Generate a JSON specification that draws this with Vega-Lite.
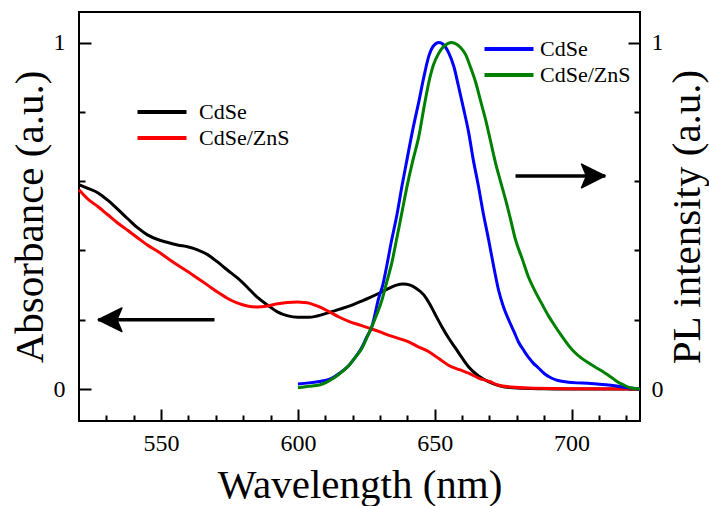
{
  "$schema": "https://vega.github.io/schema/vega-lite/v6.json",
  "width": 561,
  "height": 409,
  "autosize": "none",
  "padding": {"left": 79, "top": 12, "right": 69, "bottom": 85},
  "background": "white",
  "config": {
    "view": {"stroke": "black", "strokeWidth": 2},
    "font": "'Liberation Serif', 'Times New Roman', serif",
    "axis": {
      "domain": false, "grid": false, "tickColor": "black", "tickWidth": 2,
      "labelFont": "'Liberation Serif', 'Times New Roman', serif", "labelFontSize": 24, "labelColor": "black",
      "titleFont": "'Liberation Serif', 'Times New Roman', serif", "titleFontSize": 41, "titleFontWeight": "normal", "titleColor": "black"
    },
    "legend": {"labelFont": "'Liberation Serif', 'Times New Roman', serif", "labelFontSize": 22, "labelColor": "black"}
  },
  "datasets": {
    "abs": [
      {"w": 520, "v": 0.590, "sample": "CdSe"}, {"w": 523, "v": 0.580, "sample": "CdSe"}, {"w": 527, "v": 0.566, "sample": "CdSe"},
      {"w": 530.5, "v": 0.545, "sample": "CdSe"}, {"w": 534, "v": 0.520, "sample": "CdSe"}, {"w": 538, "v": 0.490, "sample": "CdSe"},
      {"w": 541.5, "v": 0.465, "sample": "CdSe"}, {"w": 545, "v": 0.445, "sample": "CdSe"}, {"w": 549, "v": 0.431, "sample": "CdSe"},
      {"w": 552.5, "v": 0.423, "sample": "CdSe"}, {"w": 556, "v": 0.416, "sample": "CdSe"}, {"w": 560, "v": 0.410, "sample": "CdSe"},
      {"w": 563.3, "v": 0.402, "sample": "CdSe"}, {"w": 567, "v": 0.388, "sample": "CdSe"}, {"w": 570.6, "v": 0.367, "sample": "CdSe"},
      {"w": 574, "v": 0.345, "sample": "CdSe"}, {"w": 578, "v": 0.320, "sample": "CdSe"}, {"w": 581.5, "v": 0.294, "sample": "CdSe"},
      {"w": 585, "v": 0.266, "sample": "CdSe"}, {"w": 589, "v": 0.242, "sample": "CdSe"}, {"w": 592.5, "v": 0.223, "sample": "CdSe"},
      {"w": 596, "v": 0.212, "sample": "CdSe"}, {"w": 600, "v": 0.207, "sample": "CdSe"}, {"w": 604, "v": 0.207, "sample": "CdSe"},
      {"w": 607, "v": 0.211, "sample": "CdSe"}, {"w": 611, "v": 0.220, "sample": "CdSe"}, {"w": 615, "v": 0.230, "sample": "CdSe"},
      {"w": 619, "v": 0.240, "sample": "CdSe"}, {"w": 623, "v": 0.253, "sample": "CdSe"}, {"w": 626, "v": 0.263, "sample": "CdSe"},
      {"w": 630, "v": 0.278, "sample": "CdSe"}, {"w": 633, "v": 0.290, "sample": "CdSe"}, {"w": 636, "v": 0.300, "sample": "CdSe"},
      {"w": 638.5, "v": 0.303, "sample": "CdSe"}, {"w": 641, "v": 0.300, "sample": "CdSe"}, {"w": 643, "v": 0.292, "sample": "CdSe"},
      {"w": 646, "v": 0.272, "sample": "CdSe"}, {"w": 648, "v": 0.248, "sample": "CdSe"}, {"w": 650, "v": 0.218, "sample": "CdSe"},
      {"w": 652.6, "v": 0.180, "sample": "CdSe"}, {"w": 655, "v": 0.148, "sample": "CdSe"}, {"w": 657.6, "v": 0.118, "sample": "CdSe"},
      {"w": 660, "v": 0.090, "sample": "CdSe"}, {"w": 662.4, "v": 0.064, "sample": "CdSe"}, {"w": 666, "v": 0.038, "sample": "CdSe"},
      {"w": 670, "v": 0.020, "sample": "CdSe"}, {"w": 674, "v": 0.009, "sample": "CdSe"}, {"w": 680, "v": 0.003, "sample": "CdSe"},
      {"w": 690, "v": 0.001, "sample": "CdSe"}, {"w": 700, "v": 0.0, "sample": "CdSe"}, {"w": 725, "v": 0.0, "sample": "CdSe"},
      {"w": 520, "v": 0.575, "sample": "CdSe/ZnS"}, {"w": 523, "v": 0.550, "sample": "CdSe/ZnS"}, {"w": 527, "v": 0.526, "sample": "CdSe/ZnS"},
      {"w": 530.5, "v": 0.503, "sample": "CdSe/ZnS"}, {"w": 534, "v": 0.480, "sample": "CdSe/ZnS"}, {"w": 538, "v": 0.457, "sample": "CdSe/ZnS"},
      {"w": 541.5, "v": 0.436, "sample": "CdSe/ZnS"}, {"w": 545, "v": 0.416, "sample": "CdSe/ZnS"}, {"w": 549, "v": 0.396, "sample": "CdSe/ZnS"},
      {"w": 552.5, "v": 0.377, "sample": "CdSe/ZnS"}, {"w": 556, "v": 0.358, "sample": "CdSe/ZnS"}, {"w": 560, "v": 0.338, "sample": "CdSe/ZnS"},
      {"w": 563.3, "v": 0.320, "sample": "CdSe/ZnS"}, {"w": 567, "v": 0.300, "sample": "CdSe/ZnS"}, {"w": 570.6, "v": 0.280, "sample": "CdSe/ZnS"},
      {"w": 574, "v": 0.263, "sample": "CdSe/ZnS"}, {"w": 578, "v": 0.248, "sample": "CdSe/ZnS"}, {"w": 581.5, "v": 0.240, "sample": "CdSe/ZnS"},
      {"w": 585, "v": 0.237, "sample": "CdSe/ZnS"}, {"w": 589, "v": 0.240, "sample": "CdSe/ZnS"}, {"w": 592.5, "v": 0.246, "sample": "CdSe/ZnS"},
      {"w": 596, "v": 0.250, "sample": "CdSe/ZnS"}, {"w": 600, "v": 0.251, "sample": "CdSe/ZnS"}, {"w": 602, "v": 0.250, "sample": "CdSe/ZnS"},
      {"w": 604, "v": 0.248, "sample": "CdSe/ZnS"}, {"w": 607, "v": 0.240, "sample": "CdSe/ZnS"}, {"w": 611, "v": 0.225, "sample": "CdSe/ZnS"},
      {"w": 615, "v": 0.208, "sample": "CdSe/ZnS"}, {"w": 619, "v": 0.194, "sample": "CdSe/ZnS"}, {"w": 623, "v": 0.184, "sample": "CdSe/ZnS"},
      {"w": 626, "v": 0.176, "sample": "CdSe/ZnS"}, {"w": 630, "v": 0.165, "sample": "CdSe/ZnS"}, {"w": 633, "v": 0.156, "sample": "CdSe/ZnS"},
      {"w": 636.5, "v": 0.147, "sample": "CdSe/ZnS"}, {"w": 640.5, "v": 0.136, "sample": "CdSe/ZnS"}, {"w": 644, "v": 0.122, "sample": "CdSe/ZnS"},
      {"w": 648, "v": 0.107, "sample": "CdSe/ZnS"}, {"w": 651.5, "v": 0.088, "sample": "CdSe/ZnS"}, {"w": 655, "v": 0.069, "sample": "CdSe/ZnS"},
      {"w": 659, "v": 0.056, "sample": "CdSe/ZnS"}, {"w": 662.4, "v": 0.046, "sample": "CdSe/ZnS"}, {"w": 666, "v": 0.032, "sample": "CdSe/ZnS"},
      {"w": 670, "v": 0.022, "sample": "CdSe/ZnS"}, {"w": 673, "v": 0.012, "sample": "CdSe/ZnS"}, {"w": 678, "v": 0.006, "sample": "CdSe/ZnS"},
      {"w": 684, "v": 0.003, "sample": "CdSe/ZnS"}, {"w": 700, "v": 0.001, "sample": "CdSe/ZnS"}, {"w": 725, "v": 0.0, "sample": "CdSe/ZnS"}
    ],
    "pl": [
      {"w": 600, "v": 0.015, "sample": "CdSe"}, {"w": 604, "v": 0.018, "sample": "CdSe"}, {"w": 607.8, "v": 0.022, "sample": "CdSe"},
      {"w": 610, "v": 0.025, "sample": "CdSe"}, {"w": 612.5, "v": 0.032, "sample": "CdSe"}, {"w": 615, "v": 0.045, "sample": "CdSe"},
      {"w": 618.7, "v": 0.069, "sample": "CdSe"}, {"w": 621, "v": 0.092, "sample": "CdSe"}, {"w": 623.4, "v": 0.121, "sample": "CdSe"},
      {"w": 625, "v": 0.148, "sample": "CdSe"}, {"w": 627, "v": 0.180, "sample": "CdSe"}, {"w": 629.6, "v": 0.265, "sample": "CdSe"},
      {"w": 631, "v": 0.300, "sample": "CdSe"}, {"w": 632.2, "v": 0.345, "sample": "CdSe"}, {"w": 634, "v": 0.420, "sample": "CdSe"},
      {"w": 636.3, "v": 0.508, "sample": "CdSe"}, {"w": 638, "v": 0.585, "sample": "CdSe"}, {"w": 639.8, "v": 0.660, "sample": "CdSe"},
      {"w": 642, "v": 0.750, "sample": "CdSe"}, {"w": 644.2, "v": 0.830, "sample": "CdSe"}, {"w": 646, "v": 0.900, "sample": "CdSe"},
      {"w": 647.8, "v": 0.960, "sample": "CdSe"}, {"w": 649.5, "v": 0.990, "sample": "CdSe"}, {"w": 651.5, "v": 1.0, "sample": "CdSe"},
      {"w": 653, "v": 0.995, "sample": "CdSe"}, {"w": 655.1, "v": 0.970, "sample": "CdSe"}, {"w": 657, "v": 0.930, "sample": "CdSe"},
      {"w": 658.7, "v": 0.873, "sample": "CdSe"}, {"w": 660.5, "v": 0.810, "sample": "CdSe"}, {"w": 662.4, "v": 0.740, "sample": "CdSe"},
      {"w": 664, "v": 0.665, "sample": "CdSe"}, {"w": 666, "v": 0.584, "sample": "CdSe"}, {"w": 667.5, "v": 0.517, "sample": "CdSe"},
      {"w": 669.7, "v": 0.430, "sample": "CdSe"}, {"w": 671.5, "v": 0.355, "sample": "CdSe"}, {"w": 673.3, "v": 0.286, "sample": "CdSe"},
      {"w": 675, "v": 0.240, "sample": "CdSe"}, {"w": 677, "v": 0.200, "sample": "CdSe"}, {"w": 679, "v": 0.165, "sample": "CdSe"},
      {"w": 680.6, "v": 0.136, "sample": "CdSe"}, {"w": 682.5, "v": 0.112, "sample": "CdSe"}, {"w": 684.2, "v": 0.092, "sample": "CdSe"},
      {"w": 686, "v": 0.075, "sample": "CdSe"}, {"w": 687.9, "v": 0.061, "sample": "CdSe"}, {"w": 690, "v": 0.045, "sample": "CdSe"},
      {"w": 692.6, "v": 0.032, "sample": "CdSe"}, {"w": 695, "v": 0.025, "sample": "CdSe"}, {"w": 698.8, "v": 0.020, "sample": "CdSe"},
      {"w": 702, "v": 0.018, "sample": "CdSe"}, {"w": 706, "v": 0.017, "sample": "CdSe"}, {"w": 710, "v": 0.014, "sample": "CdSe"},
      {"w": 713.4, "v": 0.012, "sample": "CdSe"}, {"w": 717, "v": 0.008, "sample": "CdSe"}, {"w": 720.7, "v": 0.004, "sample": "CdSe"},
      {"w": 725, "v": 0.0, "sample": "CdSe"},
      {"w": 600, "v": 0.004, "sample": "CdSe/ZnS"}, {"w": 604, "v": 0.008, "sample": "CdSe/ZnS"}, {"w": 607.8, "v": 0.012, "sample": "CdSe/ZnS"},
      {"w": 610, "v": 0.018, "sample": "CdSe/ZnS"}, {"w": 612.5, "v": 0.029, "sample": "CdSe/ZnS"}, {"w": 615, "v": 0.043, "sample": "CdSe/ZnS"},
      {"w": 618.7, "v": 0.069, "sample": "CdSe/ZnS"}, {"w": 621, "v": 0.092, "sample": "CdSe/ZnS"}, {"w": 623.4, "v": 0.118, "sample": "CdSe/ZnS"},
      {"w": 625, "v": 0.145, "sample": "CdSe/ZnS"}, {"w": 627, "v": 0.180, "sample": "CdSe/ZnS"}, {"w": 628.8, "v": 0.215, "sample": "CdSe/ZnS"},
      {"w": 630.7, "v": 0.257, "sample": "CdSe/ZnS"}, {"w": 632.5, "v": 0.310, "sample": "CdSe/ZnS"}, {"w": 634.3, "v": 0.364, "sample": "CdSe/ZnS"},
      {"w": 636, "v": 0.430, "sample": "CdSe/ZnS"}, {"w": 638, "v": 0.510, "sample": "CdSe/ZnS"}, {"w": 640, "v": 0.590, "sample": "CdSe/ZnS"},
      {"w": 642, "v": 0.660, "sample": "CdSe/ZnS"}, {"w": 644.2, "v": 0.730, "sample": "CdSe/ZnS"}, {"w": 646, "v": 0.810, "sample": "CdSe/ZnS"},
      {"w": 647.8, "v": 0.884, "sample": "CdSe/ZnS"}, {"w": 649.5, "v": 0.935, "sample": "CdSe/ZnS"}, {"w": 651.5, "v": 0.970, "sample": "CdSe/ZnS"},
      {"w": 653.5, "v": 0.990, "sample": "CdSe/ZnS"}, {"w": 656.2, "v": 1.0, "sample": "CdSe/ZnS"}, {"w": 658, "v": 0.995, "sample": "CdSe/ZnS"},
      {"w": 659.5, "v": 0.985, "sample": "CdSe/ZnS"}, {"w": 661.3, "v": 0.965, "sample": "CdSe/ZnS"}, {"w": 663, "v": 0.930, "sample": "CdSe/ZnS"},
      {"w": 665, "v": 0.884, "sample": "CdSe/ZnS"}, {"w": 666.8, "v": 0.830, "sample": "CdSe/ZnS"}, {"w": 668.6, "v": 0.777, "sample": "CdSe/ZnS"},
      {"w": 670.4, "v": 0.715, "sample": "CdSe/ZnS"}, {"w": 672.2, "v": 0.653, "sample": "CdSe/ZnS"}, {"w": 674, "v": 0.600, "sample": "CdSe/ZnS"},
      {"w": 675.9, "v": 0.546, "sample": "CdSe/ZnS"}, {"w": 677.7, "v": 0.490, "sample": "CdSe/ZnS"}, {"w": 679.5, "v": 0.431, "sample": "CdSe/ZnS"},
      {"w": 682, "v": 0.375, "sample": "CdSe/ZnS"}, {"w": 684.2, "v": 0.324, "sample": "CdSe/ZnS"}, {"w": 686.5, "v": 0.285, "sample": "CdSe/ZnS"},
      {"w": 689, "v": 0.248, "sample": "CdSe/ZnS"}, {"w": 691.5, "v": 0.212, "sample": "CdSe/ZnS"}, {"w": 694.1, "v": 0.180, "sample": "CdSe/ZnS"},
      {"w": 696.5, "v": 0.152, "sample": "CdSe/ZnS"}, {"w": 698.8, "v": 0.127, "sample": "CdSe/ZnS"}, {"w": 701, "v": 0.107, "sample": "CdSe/ZnS"},
      {"w": 703.5, "v": 0.090, "sample": "CdSe/ZnS"}, {"w": 706, "v": 0.077, "sample": "CdSe/ZnS"}, {"w": 708.6, "v": 0.064, "sample": "CdSe/ZnS"},
      {"w": 710.5, "v": 0.055, "sample": "CdSe/ZnS"}, {"w": 712.3, "v": 0.046, "sample": "CdSe/ZnS"}, {"w": 714.5, "v": 0.034, "sample": "CdSe/ZnS"},
      {"w": 717, "v": 0.020, "sample": "CdSe/ZnS"}, {"w": 719, "v": 0.012, "sample": "CdSe/ZnS"}, {"w": 721.4, "v": 0.004, "sample": "CdSe/ZnS"},
      {"w": 725, "v": 0.0, "sample": "CdSe/ZnS"}
    ],
    "arrows": [
      {"dir": "left", "tail": 569.5, "tip": 527.0, "level": 0.2},
      {"dir": "right", "tail": 679.5, "tip": 712.3, "level": 0.615}
    ]
  },
  "layer": [
    {
      "data": {"name": "abs"},
      "mark": {"type": "line", "strokeWidth": 3, "interpolate": "monotone"},
      "encoding": {
        "x": {"field": "w", "type": "quantitative", "scale": {"domain": [520, 725], "nice": false, "zero": false},
          "axis": {"orient": "bottom", "values": [550, 600, 650, 700], "format": "d", "tickSize": -12, "labelPadding": 22,
            "title": "Wavelength (nm)", "titleY": 64, "titleBaseline": "middle"}},
        "y": {"field": "v", "type": "quantitative", "scale": {"domain": [-0.092, 1.088], "nice": false, "zero": false},
          "axis": {"orient": "left", "values": [0, 1], "format": "d", "tickSize": -12, "labelPadding": 26,
            "title": "Absorbance (a.u.)", "titleX": -49, "titleAngle": 270, "titleBaseline": "middle", "titleAlign": "center"}},
        "color": {"field": "sample", "type": "nominal",
          "scale": {"domain": ["CdSe", "CdSe/ZnS"], "range": ["#000000", "#ff0000"]},
          "legend": {"orient": "none", "legendX": 71, "legendY": 88, "title": null, "symbolType": "M -2.5 0 L 2.5 0", "symbolSize": 384,
            "symbolStrokeWidth": 4, "labelOffset": 25, "rowPadding": 3}}
      }
    },
    {
      "data": {"name": "pl"},
      "mark": {"type": "line", "strokeWidth": 3, "interpolate": "monotone"},
      "encoding": {
        "x": {"field": "w", "type": "quantitative", "scale": {"domain": [520, 725], "nice": false, "zero": false}, "axis": null},
        "y": {"field": "v", "type": "quantitative", "scale": {"domain": [-0.092, 1.088], "nice": false, "zero": false},
          "axis": {"orient": "right", "values": [0, 1], "format": "d", "tickSize": -12, "labelPadding": 23,
            "title": "PL intensity (a.u.)", "titleX": 47, "titleAngle": 270, "titleBaseline": "middle", "titleAlign": "center"}},
        "color": {"field": "sample", "type": "nominal",
          "scale": {"domain": ["CdSe", "CdSe/ZnS"], "range": ["#0000ff", "#008000"]},
          "legend": {"orient": "none", "legendX": 418, "legendY": 25, "title": null, "symbolType": "M -2.5 0 L 2.5 0", "symbolSize": 384,
            "symbolStrokeWidth": 4, "labelOffset": 19, "rowPadding": 3}}
      }
    },
    {
      "data": {"name": "arrows"},
      "mark": {"type": "rule", "strokeWidth": 3.5, "color": "black"},
      "encoding": {
        "x": {"field": "tail", "type": "quantitative", "scale": {"domain": [520, 725], "nice": false, "zero": false},
          "axis": {"orient": "bottom", "values": [530, 540, 560, 570, 580, 590, 610, 620, 630, 640, 660, 670, 680, 690, 710, 720],
            "tickSize": -6, "labels": false, "title": null}},
        "x2": {"field": "tip"},
        "y": {"field": "level", "type": "quantitative", "scale": {"domain": [-0.092, 1.088], "nice": false, "zero": false},
          "axis": {"orient": "left", "values": [0.2, 0.4, 0.6, 0.8], "tickSize": -6, "labels": false, "title": null}}
      }
    },
    {
      "data": {"name": "arrows"},
      "mark": {"type": "point", "filled": true, "color": "black", "size": 625, "opacity": 1, "stroke": "black", "strokeWidth": 1.5, "strokeJoin": "round"},
      "encoding": {
        "x": {"field": "tip", "type": "quantitative", "scale": {"domain": [520, 725], "nice": false, "zero": false}, "axis": null},
        "y": {"field": "level", "type": "quantitative", "scale": {"domain": [-0.092, 1.088], "nice": false, "zero": false},
          "axis": {"orient": "right", "values": [0.2, 0.4, 0.6, 0.8], "tickSize": -6, "labels": false, "title": null}},
        "shape": {"field": "dir", "type": "nominal",
          "scale": {"domain": ["left", "right"], "range": ["M 0 0 L 1.9 -0.95 L 1.5 0 L 1.9 0.95 Z", "M 0 0 L -1.9 -0.95 L -1.5 0 L -1.9 0.95 Z"]},
          "legend": null}
      }
    }
  ],
  "resolve": {"scale": {"color": "independent"}, "axis": {"x": "independent", "y": "independent"}}
}
